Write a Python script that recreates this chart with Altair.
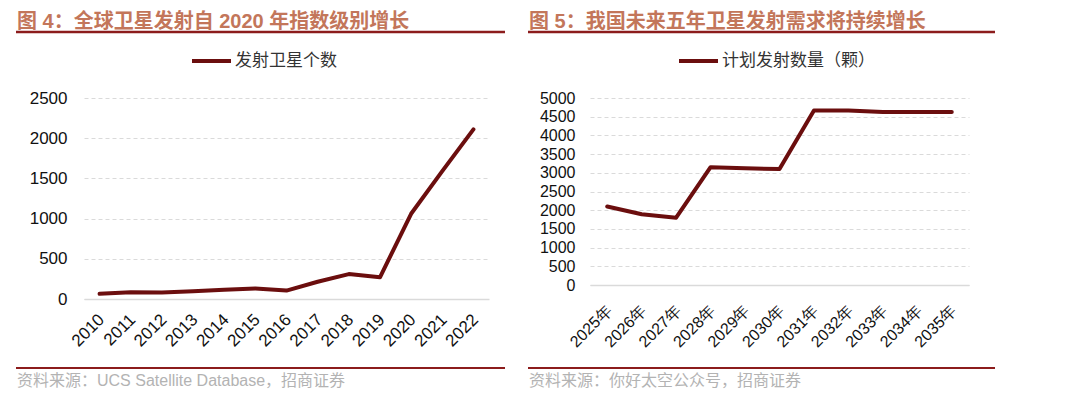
import altair as alt
import pandas as pd

# ---- data ----
years_a = ["2010", "2011", "2012", "2013", "2014", "2015", "2016",
           "2017", "2018", "2019", "2020", "2021", "2022"]
launches_a = [65, 85, 80, 95, 115, 130, 105, 215, 310, 270, 1060, 1590, 2110]

years_b = ["2025年", "2026年", "2027年", "2028年", "2029年", "2030年",
           "2031年", "2032年", "2033年", "2034年", "2035年"]
plan_b = [2100, 1890, 1800, 3150, 3120, 3100, 4665, 4665, 4625, 4625, 4625]

title_a = "图 4：全球卫星发射自 2020 年指数级别增长"
title_b = "图 5：我国未来五年卫星发射需求将持续增长"
legend_a = "发射卫星个数"
legend_b = "计划发射数量（颗）"
source_a = "资料来源：UCS Satellite Database，招商证券"
source_b = "资料来源：你好太空公众号，招商证券"
yticks_a = [0, 500, 1000, 1500, 2000, 2500]
yticks_b = [0, 500, 1000, 1500, 2000, 2500, 3000, 3500, 4000, 4500, 5000]

LINE = "#6b0e0e"
RULE = "#8c1c1c"
TITLE = "#c3765a"
GRID = "#dadada"
CJK = "Arial, Liberation Sans, Noto Sans CJK SC, sans-serif"
NUM = "Arial, Liberation Sans, sans-serif"


def one(text):
    return alt.Chart(pd.DataFrame({"t": [text]}))


def panel(cats, vals, yticks, ymax, w, h, title, legend, source,
          left, right, leg_x, yfs, ypad, xfs, xpad):
    df = pd.DataFrame({"cat": cats, "val": vals})
    line = alt.Chart(df).mark_line(color=LINE, strokeWidth=4, strokeCap="round",
                                   strokeJoin="round").encode(
        x=alt.X("cat:N", sort=cats, title=None,
                scale=alt.Scale(type="point", padding=0.5),
                axis=alt.Axis(labelAngle=-45, labelAlign="right", labelBaseline="top",
                              labelFont=NUM, labelFontSize=xfs, labelOffset=-4,
                              labelColor="#111111", ticks=False, domain=True,
                              domainColor=GRID, domainWidth=1.5, grid=False,
                              labelPadding=xpad)),
        y=alt.Y("val:Q", title=None,
                scale=alt.Scale(domain=[0, ymax], nice=False),
                axis=alt.Axis(values=yticks, format="d", labelFont=NUM, labelFontSize=yfs,
                              labelColor="#111111", ticks=False, domain=False,
                              grid=True, gridColor=GRID, gridDash=[4, 3],
                              labelPadding=ypad)),
    )
    t = one(title).mark_text(align="left", baseline="middle", font=CJK,
                             fontSize=20, fontWeight="bold", color=TITLE).encode(
        text="t:N", x=alt.value(left), y=alt.value(-76))
    r1 = one("r").mark_rule(color=RULE, strokeWidth=2.5).encode(
        x=alt.value(left - 1), x2=alt.value(right), y=alt.value(-66))
    r2 = one("r").mark_rule(color=RULE, strokeWidth=2).encode(
        x=alt.value(left - 1), x2=alt.value(right), y=alt.value(270))
    lg = one("l").mark_rule(color=LINE, strokeWidth=4).encode(
        x=alt.value(leg_x), x2=alt.value(leg_x + 39), y=alt.value(-37))
    lt = one(legend).mark_text(align="left", baseline="middle", font=CJK,
                               fontSize=17, color="#333333").encode(
        text="t:N", x=alt.value(leg_x + 43), y=alt.value(-37))
    st = one(source).mark_text(align="left", baseline="middle", font=CJK,
                               fontSize=16, color="#b3b3b3").encode(
        text="t:N", x=alt.value(left), y=alt.value(283))
    return alt.layer(line, t, r1, r2, lg, lt, st).properties(width=w, height=h)


left_panel = panel(years_a, launches_a, yticks_a, 2500, 405, 201, title_a,
                   legend_a, source_a, -67, 421, 108, 17, 17, 17, 12)
right_panel = panel(years_b, plan_b, yticks_b, 5000, 379, 187, title_b,
                    legend_b, source_b, -61, 405, 89, 16, 15, 16, 17)

chart = alt.hconcat(left_panel, right_panel, spacing=101, bounds="flush").properties(
    padding={"left": 6, "top": 4, "right": 5, "bottom": 5},
    background="white",
).configure_view(stroke=None)

chart.save("out.html", embed_options={"renderer": "svg", "actions": False})
